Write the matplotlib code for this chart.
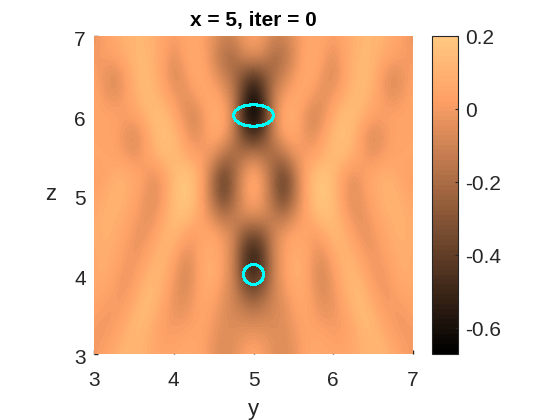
import numpy as np
import matplotlib
matplotlib.use('Agg')
import matplotlib.pyplot as plt
from matplotlib.patches import Ellipse
from matplotlib.transforms import ScaledTranslation

plt.rcParams['font.family'] = ['Liberation Sans', 'DejaVu Sans']

# left half of the field, y = 3 ... 5, rows go from z = 7 down to z = 3
y_half = [3.0, 3.125, 3.25, 3.375, 3.5, 3.625, 3.75, 3.875, 4.0, 4.125, 4.25, 4.375, 4.5, 4.625, 4.75, 4.875, 5.0]
z_rows = [7.0, 6.75, 6.5, 6.25, 6.0, 5.75, 5.5, 5.25, 5.0, 4.75, 4.5, 4.25, 4.0, 3.75, 3.5, 3.25, 3.0]
field_half = [
    [-.02, .02, .07, .10, .12, .12, .09, .05, .02, .05, .07, .03, -.03, -.09, -.08, .00, .03],
    [.00, .02, .04, .08, .12, .13, .10, .04, -.04, .03, .08, .04, -.07, -.18, -.20, -.08, -.04],
    [.03, -.02, -.07, .00, .10, .14, .10, .03, -.07, -.02, .07, .06, -.01, -.10, -.20, -.33, -.42],
    [.05, .00, -.04, .01, .08, .14, .13, .07, .01, -.05, .00, .07, .06, .00, -.13, -.42, -.62],
    [.05, .05, .04, .02, .04, .09, .15, .15, .07, -.03, -.09, -.01, .10, .06, -.10, -.50, -.67],
    [.05, .03, .04, -.02, -.07, .01, .11, .17, .13, .04, -.05, .00, .07, .03, -.12, -.35, -.47],
    [.06, .06, .04, .01, -.03, .02, .09, .14, .14, .09, .04, .01, -.04, -.16, -.21, -.17, -.12],
    [.02, .04, .09, .10, .07, .02, -.03, .03, .13, .19, .14, .02, -.20, -.38, -.23, -.03, .07],
    [.04, .08, .11, .10, .06, .00, -.06, .02, .14, .20, .15, .01, -.20, -.38, -.22, -.02, .07],
    [.07, .10, .10, .08, .03, -.03, -.03, .06, .14, .17, .11, .02, -.08, -.18, -.13, -.06, -.04],
    [.08, .10, .09, .05, -.01, -.03, .03, .11, .13, .06, .01, .05, .05, .00, -.10, -.28, -.35],
    [.07, .09, .07, .02, -.02, .02, .09, .12, .06, -.04, -.01, .08, .08, .01, -.10, -.40, -.53],
    [.07, .09, .04, -.01, .00, .08, .13, .10, .01, -.08, -.03, .08, .10, .01, -.11, -.38, -.50],
    [.06, .05, .01, -.01, .05, .13, .13, .07, -.02, -.07, .00, .07, .05, -.03, -.10, -.22, -.30],
    [.03, .00, .00, .04, .11, .14, .10, .03, -.02, -.02, .02, .05, .01, -.05, -.08, -.10, -.12],
    [.00, .00, .03, .09, .13, .11, .06, .02, .02, .04, .05, .04, -.02, -.06, -.05, -.03, -.02],
    [.00, .03, .08, .12, .12, .10, .07, .05, .05, .07, .07, .03, -.03, -.07, -.04, .02, .06],
]

clim = [-0.67, 0.2]
cbar_ticks = [-0.6, -0.4, -0.2, 0, 0.2]
cbar_labels = ['-0.6', '-0.4', '-0.2', '0', '0.2']
axis_ticks = [3, 4, 5, 6, 7]

# the two scatterers
obj_y = [5, 5]
obj_z = [6, 4]
obj_w = [0.5, 0.25]
obj_h = [0.27, 0.25]

half = np.array(field_half)
field = np.hstack([half, half[:, -2::-1]])  # picture is mirrored about y = 5
dy = y_half[1] - y_half[0]
dz = z_rows[0] - z_rows[1]

W, H = 560, 420
text_col = '#262626'
fig = plt.figure(figsize=(W / 100, H / 100), dpi=100)
ax = fig.add_axes([94 / W, (H - 354) / H, 319 / W, 318 / H])
im = ax.imshow(field, cmap=plt.get_cmap('copper', 64), vmin=clim[0], vmax=clim[1],
               extent=[3 - dy / 2, 7 + dy / 2, 3 - dz / 2, 7 + dz / 2],
               interpolation='bicubic', aspect='auto', zorder=3)
ax.set_xlim(3, 7)
ax.set_ylim(3, 7)
ax.set_xticks(axis_ticks)
ax.set_yticks(axis_ticks)
ax.set_axisbelow(True)
ax.tick_params(direction='in', length=3, width=1, labelsize=15, colors=text_col)
ax.tick_params(axis='x', pad=12)
ax.tick_params(axis='y', pad=6)
for s in ax.spines.values():
    s.set_visible(False)
# MATLAB puts the y tick labels a little under the tick
for t in ax.get_yticklabels():
    t.set_transform(t.get_transform() + ScaledTranslation(0, -2 / 72, fig.dpi_scale_trans))

for i in range(len(obj_y)):
    ax.add_patch(Ellipse((obj_y[i], obj_z[i]), obj_w[i], obj_h[i], fill=False,
                         edgecolor='cyan', linewidth=1.5, antialiased=False, zorder=4))

ax.set_xlabel('y', fontsize=16, color=text_col, labelpad=7)
ax.set_ylabel('z', fontsize=16, color=text_col, rotation=0, labelpad=17, va='center')
ax.set_title('x = 5, iter = 0', fontsize=15, fontweight='bold', color='black', pad=7)

cax = fig.add_axes([432 / W, (H - 354) / H, 26 / W, 318 / H])
cb = fig.colorbar(im, cax=cax, ticks=cbar_ticks)
cb.ax.set_yticklabels(cbar_labels)
cb.ax.tick_params(direction='in', length=2.5, width=0.8, labelsize=15, colors=text_col, pad=5)
cb.outline.set_edgecolor(text_col)
cb.outline.set_linewidth(0.8)

fig.savefig('out.png', dpi=100)
